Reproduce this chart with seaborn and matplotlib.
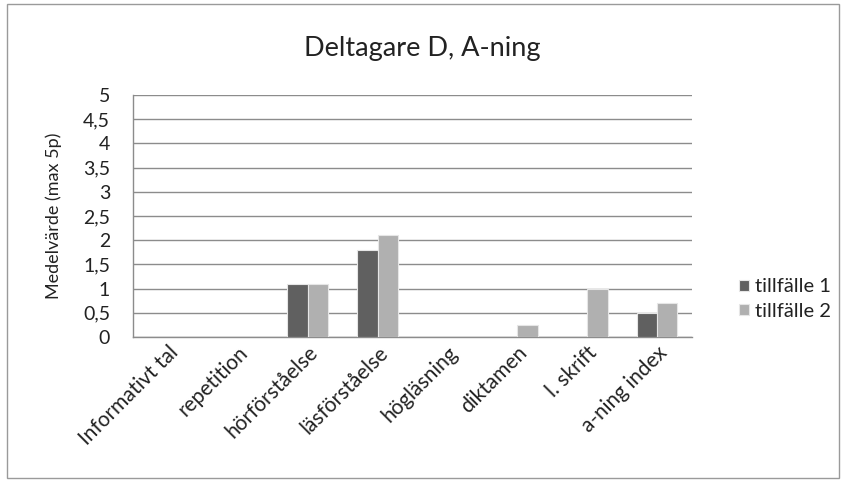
import matplotlib
matplotlib.use("Agg")
import matplotlib.pyplot as plt
from matplotlib.patches import Rectangle
from matplotlib.ticker import FuncFormatter
import seaborn as sns
import pandas as pd

categories = ["Informativt tal", "repetition", "hörförståelse", "läsförståelse",
              "högläsning", "diktamen", "l. skrift", "a-ning index"]
tillfalle_1 = [0, 0, 1.1, 1.8, 0, 0, 0, 0.5]
tillfalle_2 = [0, 0, 1.1, 2.1, 0, 0.25, 1.0, 0.7]
series_names = ["tillfälle 1", "tillfälle 2"]
y_ticks = [0, 0.5, 1, 1.5, 2, 2.5, 3, 3.5, 4, 4.5, 5]

df = pd.DataFrame({
    "kategori": categories * 2,
    "serie": [series_names[0]] * len(categories) + [series_names[1]] * len(categories),
    "värde": tillfalle_1 + tillfalle_2,
})

sns.set_theme(style="white")
plt.rcParams["font.family"] = ["Lato", "DejaVu Sans"]

fig = plt.figure(figsize=(8.44, 4.83), dpi=100)
ax = fig.add_axes([0.1576, 0.3023, 0.820 - 0.1576, 0.8033 - 0.3023])

sns.barplot(data=df, x="kategori", y="värde", hue="serie",
            palette=["#606060", "#b0b0b0"], width=0.58, ax=ax,
            edgecolor="#e6e6e6", linewidth=0.8, saturation=1, zorder=3)

ax.set_ylim(0, 5)
ax.set_xlim(-0.5, len(categories) - 0.5)
ax.set_yticks(y_ticks)
ax.yaxis.set_major_formatter(FuncFormatter(lambda v, p: f"{v:g}".replace(".", ",")))
ax.grid(axis="y", color="#8c8c8c", linewidth=1.0, zorder=0)
ax.set_axisbelow(True)
for side in ["top", "right"]:
    ax.spines[side].set_visible(False)
for side in ["left", "bottom"]:
    ax.spines[side].set_color("#8c8c8c")
    ax.spines[side].set_linewidth(1.0)
ax.tick_params(axis="both", length=0, colors="#222222")
ax.tick_params(axis="y", labelsize=14, pad=16.5)
ax.tick_params(axis="x", labelsize=15, pad=4)
ax.set_xticks(range(len(categories)))
ax.set_xticklabels(categories, rotation=45, ha="right", rotation_mode="anchor")
ax.set_xlabel("")
ax.set_ylabel("Medelvärde (max 5p)", fontsize=13, color="#222222")
ax.yaxis.set_label_coords(-0.127, 0.5)

fig.text(0.5, 0.90, "Deltagare D, A-ning", fontsize=19.5, color="#222222",
         ha="center", va="center")

leg = ax.legend(loc="center left", bbox_to_anchor=(1.07, 0.157), frameon=False,
                fontsize=14.5, handlelength=0.5, handleheight=0.5,
                handletextpad=0.3, labelspacing=0.35, borderaxespad=0)
for t in leg.get_texts():
    t.set_color("#222222")

fig.patches.append(Rectangle((0.008, 0.01), 0.986, 0.982, transform=fig.transFigure,
                             fill=False, edgecolor="#9a9a9a", linewidth=1.0))

fig.savefig("out.png", dpi=100)
